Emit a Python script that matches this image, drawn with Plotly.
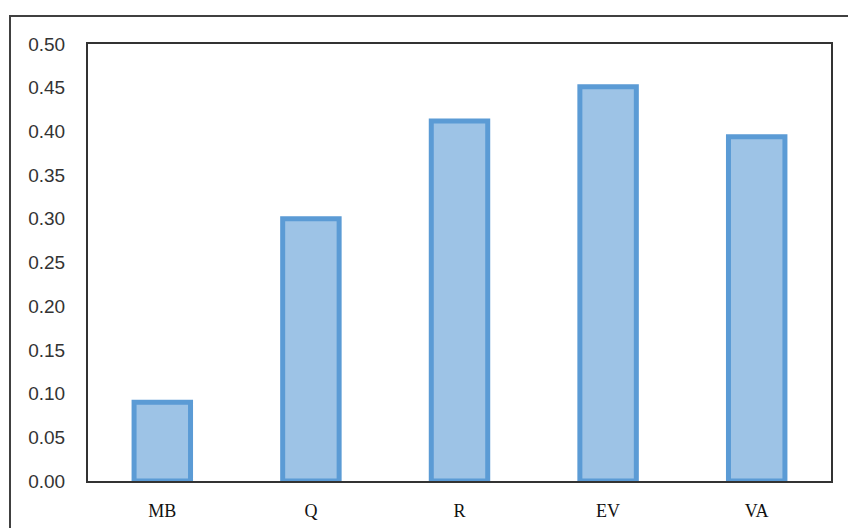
import plotly.graph_objects as go

categories = ["MB", "Q", "R", "EV", "VA"]
values = [0.09, 0.30, 0.412, 0.451, 0.394]
y_ticks = [0.00, 0.05, 0.10, 0.15, 0.20, 0.25, 0.30, 0.35, 0.40, 0.45, 0.50]
y_tick_text = [f"{v:.2f}" for v in y_ticks]

W, H = 848, 528
L, R, T, B = 88, 17, 44, 47
pw, ph = W - L - R, H - T - B

fig = go.Figure(
    go.Bar(
        x=categories,
        y=values,
        marker=dict(color="#9DC3E6", line=dict(color="#5B9BD5", width=5)),
        width=0.38,
    )
)

# outer chart-area frame, partly running past the page edge
fig.add_shape(
    type="rect", xref="paper", yref="paper",
    x0=(10 - L) / pw, x1=(W + 20 - L) / pw,
    y0=-(B + 20) / ph, y1=1 + (T - 16) / ph,
    line=dict(color="#404040", width=2), fillcolor="rgba(0,0,0,0)", layer="below",
)

fig.update_layout(
    width=W, height=H,
    margin=dict(l=L, r=R, t=T, b=B),
    paper_bgcolor="white", plot_bgcolor="white",
    showlegend=False,
    bargap=0.62,
    xaxis=dict(
        showline=True, mirror=True, linecolor="#333333", linewidth=2,
        showgrid=False, ticks="", automargin=False,
        tickfont=dict(family="Liberation Serif", size=18, color="#111111"),
        ticklabelstandoff=12,
    ),
    yaxis=dict(
        range=[0, 0.5], tickvals=y_ticks, ticktext=y_tick_text,
        showline=True, mirror=True, linecolor="#333333", linewidth=2,
        showgrid=False, ticks="", zeroline=False, automargin=False,
        tickfont=dict(family="Liberation Sans", size=19, color="#333333"),
        ticklabelstandoff=17,
    ),
)

fig.write_html("out.html")
